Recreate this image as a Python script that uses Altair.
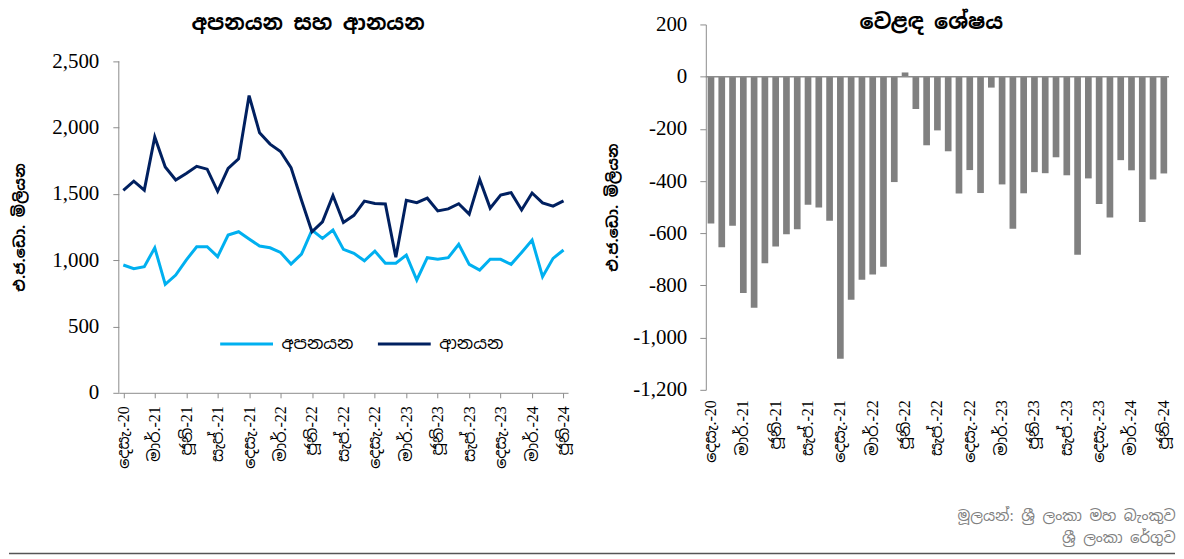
import altair as alt
import pandas as pd

months = [
    "දෙසැ.-20",
    "ජන.-21", "පෙබ.-21", "මාර්.-21", "අප්‍රේ.-21", "මැයි-21", "ජූනි-21",
    "ජූලි-21", "අගෝ.-21", "සැප්.-21", "ඔක්.-21", "නොවැ.-21", "දෙසැ.-21",
    "ජන.-22", "පෙබ.-22", "මාර්.-22", "අප්‍රේ.-22", "මැයි-22", "ජූනි-22",
    "ජූලි-22", "අගෝ.-22", "සැප්.-22", "ඔක්.-22", "නොවැ.-22", "දෙසැ.-22",
    "ජන.-23", "පෙබ.-23", "මාර්.-23", "අප්‍රේ.-23", "මැයි-23", "ජූනි-23",
    "ජූලි-23", "අගෝ.-23", "සැප්.-23", "ඔක්.-23", "නොවැ.-23", "දෙසැ.-23",
    "ජන.-24", "පෙබ.-24", "මාර්.-24", "අප්‍රේ.-24", "මැයි-24", "ජූනි-24",
]
tick_months = [
    "දෙසැ.-20", "මාර්.-21", "ජූනි-21", "සැප්.-21", "දෙසැ.-21",
    "මාර්.-22", "ජූනි-22", "සැප්.-22", "දෙසැ.-22", "මාර්.-23",
    "ජූනි-23", "සැප්.-23", "දෙසැ.-23", "මාර්.-24", "ජූනි-24",
]

exports = [964, 936, 951, 1094, 818, 888, 1001, 1102, 1102, 1027, 1190, 1215,
           1160, 1107, 1094, 1059, 971, 1047, 1227, 1165, 1227, 1082, 1052, 996,
           1069, 977, 977, 1039, 851, 1019, 1007, 1019, 1120, 969, 926, 1007,
           1007, 969, 1059, 1152, 876, 1014, 1077]
imports = [1527, 1596, 1529, 1930, 1704, 1605, 1655, 1708, 1687, 1520, 1692, 1765,
           2242, 1961, 1876, 1820, 1699, 1452, 1215, 1290, 1488, 1285, 1339, 1446,
           1428, 1425, 1022, 1452, 1434, 1468, 1372, 1387, 1426, 1348, 1610, 1393,
           1492, 1510, 1379, 1507, 1433, 1408, 1448]
balance = [-563, -654, -571, -829, -886, -715, -651, -604, -585, -491, -501, -552,
           -1081, -855, -778, -758, -728, -404, 16, -124, -263, -206, -286, -448,
           -358, -446, -42, -413, -583, -447, -366, -370, -309, -378, -682, -390,
           -488, -540, -320, -359, -557, -394, -371]

series_names = ["අපනයන", "ආනයන"]
series_colors = ["#00B0F0", "#002060"]
left_ticks = [0, 500, 1000, 1500, 2000, 2500]
right_ticks = [-1200, -1000, -800, -600, -400, -200, 0, 200]

title_left = "අපනයන සහ ආනයන"
title_right = "වෙළඳ ශේෂය"
y_title = "එ.ජ.ඩො. මිලියන"
source_lines = ["මූලයන්: ශ්‍රී ලංකා මහ බැංකුව",
                "ශ්‍රී ලංකා රේගුව\u00a0\u00a0\u00a0\u00a0\u00a0"]

SIN = "Noto Sans Sinhala, Iskoola Pota, Noto Sans, sans-serif"
SERIF = "Liberation Serif, Noto Sans Sinhala, Iskoola Pota, serif"
AXIS_COLOR = "#8c8c8c"
NUM_EXPR = "replace(format(datum.value, ',.0f'), '\u2212', '-')"

df_lines = pd.DataFrame({
    "month": months + months,
    "value": exports + imports,
    "series": [series_names[0]] * len(months) + [series_names[1]] * len(months),
})
df_bal = pd.DataFrame({"month": months, "balance": balance})
df_one = pd.DataFrame({"k": [0]})

x_axis_common = dict(
    values=tick_months, labelAngle=-90, title=None, labelFont=SERIF,
    labelFontSize=16, labelColor="black",
)

y_left = alt.Y("value:Q",
               scale=alt.Scale(domain=[0, 2500], nice=False, range=[369, 37]),
               axis=alt.Axis(values=left_ticks, labelExpr=NUM_EXPR,
                             title=y_title, titleFont=SIN, titleFontSize=15,
                             titleFontWeight="bold", titlePadding=24,
                             labelFont=SERIF, labelFontSize=21,
                             labelColor="black", labelPadding=14,
                             domain=False, tickColor=AXIS_COLOR,
                             tickSize=6, grid=False))

lines = alt.Chart(df_lines).mark_line(strokeWidth=3).encode(
    x=alt.X("month:N", sort=months,
            scale=alt.Scale(type="point", padding=0.43),
            axis=alt.Axis(domainColor=AXIS_COLOR, tickColor=AXIS_COLOR,
                          ticks=True, tickSize=5, labelPadding=8,
                          **x_axis_common)),
    y=y_left,
    color=alt.Color("series:N",
                    scale=alt.Scale(domain=series_names, range=series_colors),
                    legend=alt.Legend(orient="none", legendX=100, legendY=292,
                                      direction="horizontal", title=None,
                                      symbolType="stroke", symbolSize=2800,
                                      symbolStrokeWidth=3, labelFont=SIN,
                                      labelFontSize=17, labelColor="black",
                                      labelOffset=7, columnPadding=17,
                                      padding=0)),
)
y_axis_line = alt.Chart(df_one).mark_rule(color=AXIS_COLOR, strokeWidth=1).encode(
    x=alt.value(0), y=alt.datum(left_ticks[0]), y2=alt.datum(left_ticks[-1])
)
left = alt.layer(lines, y_axis_line).properties(
    width=450, height=369,
    title=alt.Title(title_left, font=SIN, fontSize=21, fontWeight="bold",
                    anchor="middle", frame="bounds", offset=-10, dx=16,
                    color="black"),
)

bars = alt.Chart(df_bal).mark_bar(color="#808080").encode(
    x=alt.X("month:N", sort=months,
            scale=alt.Scale(paddingInner=0.38, paddingOuter=0.17),
            axis=alt.Axis(domain=False, ticks=False, labelPadding=10,
                          **x_axis_common)),
    y=alt.Y("balance:Q", scale=alt.Scale(domain=[-1200, 200], nice=False),
            axis=alt.Axis(values=right_ticks, labelExpr=NUM_EXPR,
                          title=y_title, titleFont=SIN, titleFontSize=15,
                          titleFontWeight="bold", titlePadding=12,
                          labelFont=SERIF, labelFontSize=21, labelColor="black",
                          labelPadding=13,
                          domainColor=AXIS_COLOR, tickColor=AXIS_COLOR,
                          tickSize=6, grid=False)),
)
zero = alt.Chart(df_one).mark_rule(color=AXIS_COLOR, strokeWidth=1.5).encode(
    y=alt.datum(0)
)
right = alt.layer(bars, zero).properties(
    width=464, height=366,
    title=alt.Title(title_right, font=SIN, fontSize=21, fontWeight="bold",
                    anchor="middle", offset=-20, dx=-6, color="black"),
)

top = alt.hconcat(left, right, spacing=33)

footer = alt.Chart(df_one).mark_rule(color="#555555", strokeWidth=1.5).encode(
    x=alt.value(-110), x2=alt.value(1058), y=alt.value(8)
).properties(
    width=1058, height=8,
    title=alt.Title(source_lines, font=SIN, fontSize=15, color="#808080",
                    anchor="end", orient="top", align="right", offset=0,
                    fontWeight="normal", lineHeight=22),
)

chart = alt.vconcat(top, footer, spacing=40,
                    padding={"top": 4, "left": 0, "right": 0, "bottom": 0}).configure(
    background="white"
).configure_view(stroke=None)

chart.save("out.html", embed_options={"renderer": "svg", "actions": False})
